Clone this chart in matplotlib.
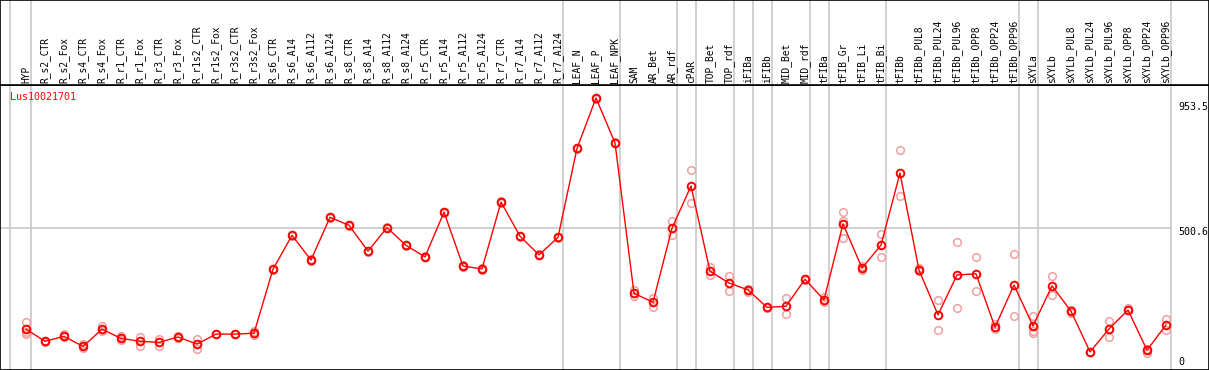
import matplotlib.pyplot as plt

# Sample names (x axis, one column per sample)
samples = ['HYP', 'R_s2_CTR', 'R_s2_Fox', 'R_s4_CTR', 'R_s4_Fox', 'R_r1_CTR', 'R_r1_Fox',
           'R_r3_CTR', 'R_r3_Fox', 'R_r1s2_CTR', 'R_r1s2_Fox', 'R_r3s2_CTR', 'R_r3s2_Fox',
           'R_s6_CTR', 'R_s6_A14', 'R_s6_A112', 'R_s6_A124', 'R_s8_CTR', 'R_s8_A14',
           'R_s8_A112', 'R_s8_A124', 'R_r5_CTR', 'R_r5_A14', 'R_r5_A112', 'R_r5_A124',
           'R_r7_CTR', 'R_r7_A14', 'R_r7_A112', 'R_r7_A124', 'LEAF_N', 'LEAF_P', 'LEAF_NPK',
           'SAM', 'AR_Bet', 'AR_rdf', 'cPAR', 'TOP_Bet', 'TOP_rdf', 'iFIBa', 'iFIBb',
           'MID_Bet', 'MID_rdf', 'tFIBa', 'tFIB_Gr', 'tFIB_Li', 'tFIB_Bi', 'tFIBb',
           'tFIBb_PUL8', 'tFIBb_PUL24', 'tFIBb_PUL96', 'tFIBb_OPP8', 'tFIBb_OPP24',
           'tFIBb_OPP96', 'sXYLa', 'sXYLb', 'sXYLb_PUL8', 'sXYLb_PUL24', 'sXYLb_PUL96',
           'sXYLb_OPP8', 'sXYLb_OPP24', 'sXYLb_OPP96']

# Mean expression per sample
means = [148, 106, 123, 88, 148, 116, 106, 102, 121, 96, 131, 131, 134,
         357, 475, 389, 538, 510, 420, 502, 440, 400, 556, 368, 358, 591, 472, 407, 468,
         778, 953.5, 797, 273, 242, 500, 647, 350, 309, 285, 224, 228, 322, 250,
         515, 361, 441, 692, 354, 198, 337, 341, 155, 302, 159, 299, 211, 69, 149,
         215, 75, 163]

# Replicate values per sample
reps = [[173, 139, 131], [104, 108], [131, 121], [97, 83], [159, 142], [124, 110],
        [122, 90], [115, 90], [124, 117], [113, 78], [130, 133], [130, 133], [142, 128],
        [355, 359], [473, 477], [387, 391], [536, 540], [508, 512], [418, 422],
        [500, 504], [438, 442], [398, 402], [554, 558], [366, 370], [356, 360],
        [589, 593], [470, 474], [405, 409], [466, 470], [776, 780], [951, 953.5],
        [795, 799], [285, 264], [256, 225], [525, 475], [702, 587], [366, 338],
        [333, 280], [289, 277], [222, 226], [256, 200], [320, 324], [261, 242],
        [557, 526, 465], [368, 354], [480, 400], [772, 612], [361, 351], [250, 145],
        [451, 221], [400, 281], [167, 148], [410, 193], [193, 143, 134], [333, 267],
        [205, 215], [67, 70], [177, 121], [223, 215], [66, 79], [183, 145]]

# Number of samples in each tissue group
group_sizes = [1, 28, 3, 3, 1, 2, 1, 1, 2, 1, 3, 7, 1, 7]

gene_id = 'Lus10021701'
y_max = 953.5
y_mid = 500.6

W, H = 1209, 370
header_px = 85
x_left = -26 / 19
x_right = (W - 26) / 19
y_bottom = 5.9
y_top = 998.8

fig = plt.figure(figsize=(W / 100, H / 100), dpi=100)
frac = (H - header_px) / H
ax = fig.add_axes([0, 0, 1, frac])
hx = fig.add_axes([0, frac, 1, 1 - frac])

for a in (ax, hx):
    a.set_xlim(x_left, x_right)
    a.set_xticks([])
    a.set_yticks([])
    for s in a.spines.values():
        s.set_color('black')
        s.set_linewidth(1.2)
ax.set_ylim(y_bottom, y_top)
hx.set_ylim(0, 1)

# group separators
seps = [-0.84]
pos = 0
for g in group_sizes:
    pos += g
    seps.append(pos - 1 + 0.25)
for a in (ax, hx):
    for s in seps:
        a.axvline(s, color='#c4c4c4', linewidth=1.1, zorder=0)

ax.hlines(y_mid, x_left, seps[-1], color='#c4c4c4', linewidth=1.1, zorder=0)

xs = list(range(len(samples)))

# replicates
for i, r in enumerate(reps):
    ax.plot([i] * len(r), r, linestyle='none', marker='o', markersize=5.5,
            markerfacecolor='none', markeredgecolor='#f0a0a0', markeredgewidth=1.1, zorder=2)

# means
ax.plot(xs, means, color='red', linewidth=1.0, marker='o', markersize=5.5,
        markerfacecolor='none', markeredgecolor='red', markeredgewidth=1.4, zorder=3)

# header labels
for i, name in enumerate(samples):
    hx.text(i, 0.02, name, rotation=90, ha='center', va='bottom',
            family='DejaVu Sans Mono', fontsize=6.9, color='black')

ax.text(10 / W, 1 - 12 / (H - header_px), gene_id, transform=ax.transAxes,
        ha='left', va='center', family='DejaVu Sans Mono', fontsize=7.2, color='red')

# value labels on the right
lx = (1178 - 26) / 19
for val, off in [(y_max, -6.5), (y_mid, -3), (0, 7)]:
    txt = '0' if val == 0 else f'{val:.1f}'
    ax.annotate(txt, (lx, val), xytext=(0, off), textcoords='offset points',
                ha='left', va='center', family='DejaVu Sans Mono', fontsize=7.2,
                annotation_clip=False)

fig.savefig('out.png', dpi=100)
